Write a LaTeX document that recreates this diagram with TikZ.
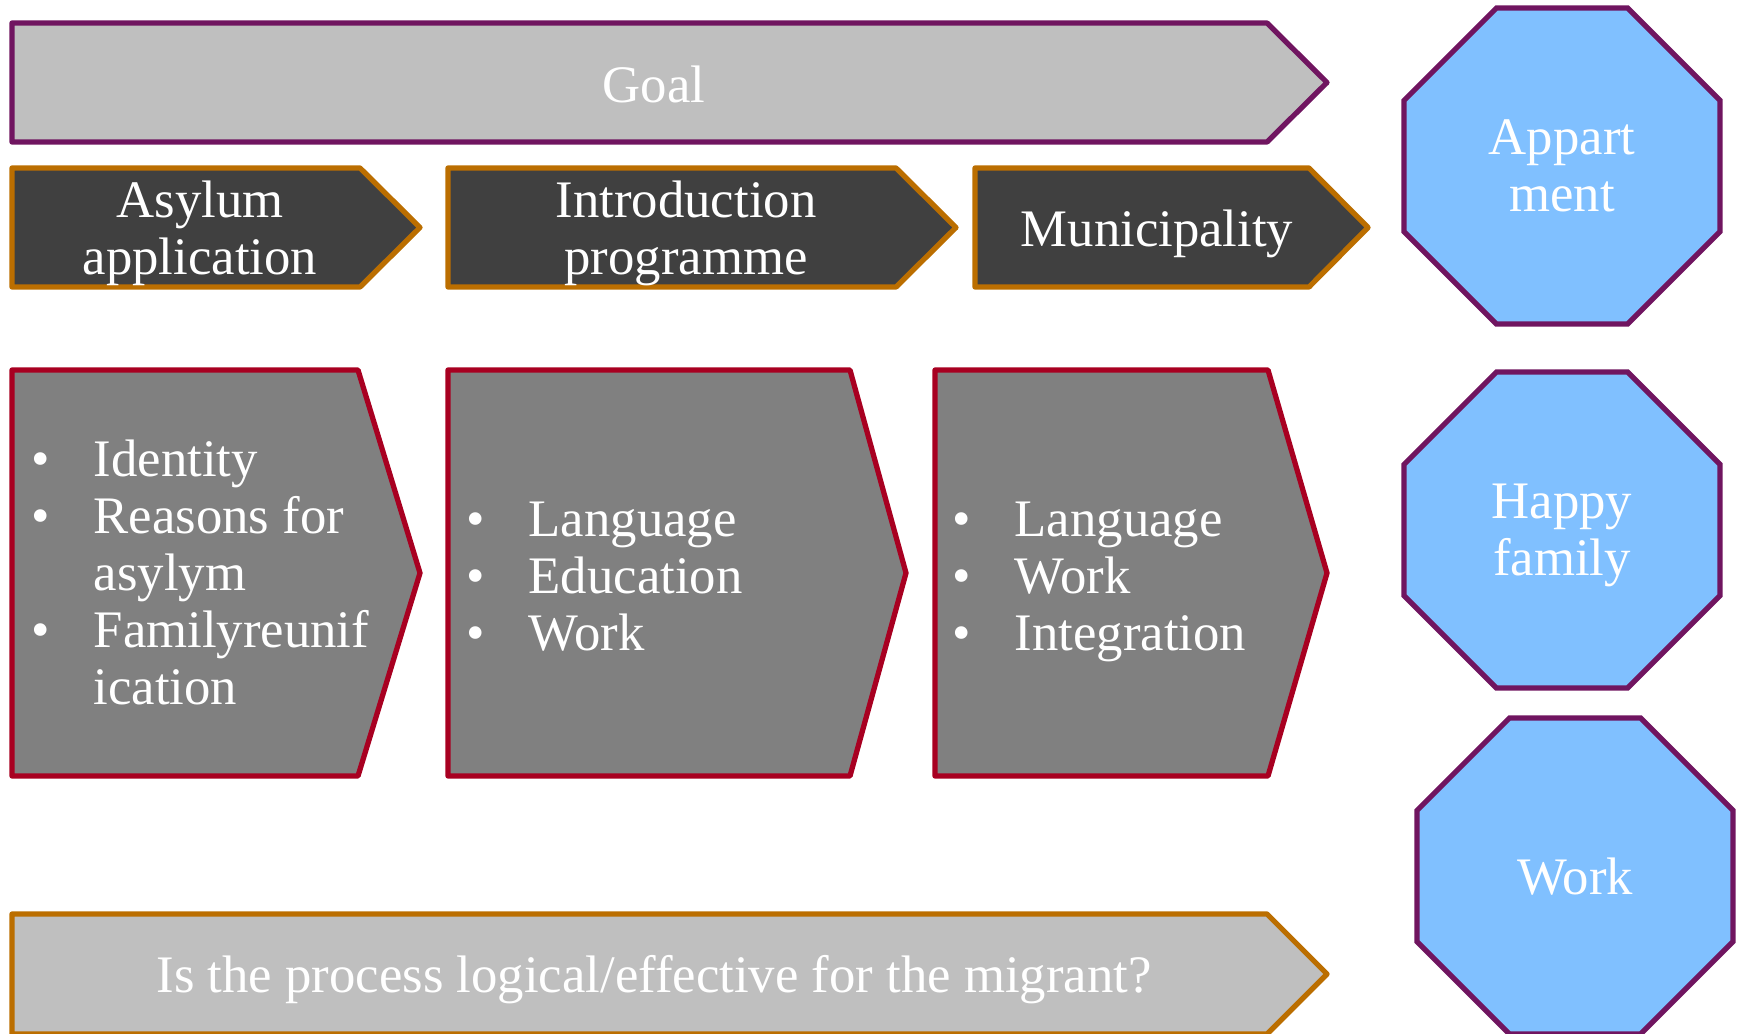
\documentclass[tikz,border=0pt]{standalone}
\usepackage{fontspec}
\setmainfont{Liberation Serif}
\usetikzlibrary{shapes.geometric}
\definecolor{plum}{RGB}{112,21,96}
\definecolor{amber}{RGB}{187,110,0}
\definecolor{crimson}{RGB}{168,0,33}
\definecolor{lightgrey}{RGB}{191,191,191}
\definecolor{darkgrey}{RGB}{64,64,64}
\definecolor{midgrey}{RGB}{128,128,128}
\definecolor{skyblue}{RGB}{128,192,255}
\newcommand{\boxfont}{\fontsize{15}{16.2}\selectfont}

\begin{document}
\begin{tikzpicture}[x=0.01cm, y=-0.01cm]
	\tikzstyle{banner}=[draw, line width=1.5pt, line join=round, fill=lightgrey]
	\tikzstyle{stage}=[draw=amber, line width=1.5pt, line join=round, fill=darkgrey]
	\tikzstyle{task}=[draw=crimson, line width=1.5pt, line join=round, fill=midgrey]
	\tikzstyle{outcome}=[regular polygon, regular polygon sides=8, draw=plum,
	line width=1.5pt, fill=skyblue, minimum size=3.42cm, inner sep=0pt,
	text=white, align=center, text depth=0pt, font=\boxfont]
	\tikzstyle{whitetext}=[text=white, align=center, font=\boxfont]
	\tikzstyle{listtext}=[anchor=west, inner sep=0pt, text=white, font=\boxfont]
	
	\useasboundingbox (0,0) rectangle (1743,1033);
	\clip (0,0) rectangle (1743,1033);
	
	% goal
	\draw[banner, draw=plum] (12,23) -- (1267,23) -- (1327,82.5) -- (1267,142) -- (12,142) -- cycle;
	\node[whitetext] (goal) at (654,84) {Goal};
	
	% stages
	\draw[stage] (12,168) -- (360,168) -- (420,227.5) -- (360,287) -- (12,287) -- cycle;
	\node[whitetext] (asylum) at (200,233) {Asylum\\application};
	\draw[stage] (448,168) -- (896,168) -- (956,227.5) -- (896,287) -- (448,287) -- cycle;
	\node[whitetext] (intro) at (686,233) {Introduction\\programme};
	\draw[stage] (975,168) -- (1309,168) -- (1368,227.5) -- (1309,287) -- (975,287) -- cycle;
	\node[whitetext] (municipality) at (1157,234) {Municipality};
	
	% tasks
	\draw[task] (12,370) -- (358,370) -- (420,573) -- (358,776) -- (12,776) -- cycle;
	\node[listtext] (asylumlist) at (31,579) {\begin{tabular}{@{}p{0.62cm}@{}l@{}}
		\textbullet & Identity\\
		\textbullet & Reasons for\\
		& asylym\\
		\textbullet & Familyreunif\\
		& ication
	\end{tabular}};
	\draw[task] (448,370) -- (850,370) -- (906,573) -- (850,776) -- (448,776) -- cycle;
	\node[listtext] (introlist) at (466,582) {\begin{tabular}{@{}p{0.62cm}@{}l@{}}
		\textbullet & Language\\
		\textbullet & Education\\
		\textbullet & Work
	\end{tabular}};
	\draw[task] (935,370) -- (1268,370) -- (1327,573) -- (1268,776) -- (935,776) -- cycle;
	\node[listtext] (municipalitylist) at (952,582) {\begin{tabular}{@{}p{0.62cm}@{}l@{}}
		\textbullet & Language\\
		\textbullet & Work\\
		\textbullet & Integration
	\end{tabular}};
	
	% outcomes
	\node[outcome] (flat) at (1562,166) {Appart\\ment};
	\node[outcome] (family) at (1562,530) {Happy\\family};
	\node[outcome] (job) at (1575,876) {Work};
	
	% question
	\draw[banner, draw=amber] (12,914) -- (1267,914) -- (1327,974) -- (1267,1034) -- (12,1034) -- cycle;
	\node[whitetext] (question) at (654,980) {Is the process logical/effective for the migrant?};
	
\end{tikzpicture}
\end{document}
